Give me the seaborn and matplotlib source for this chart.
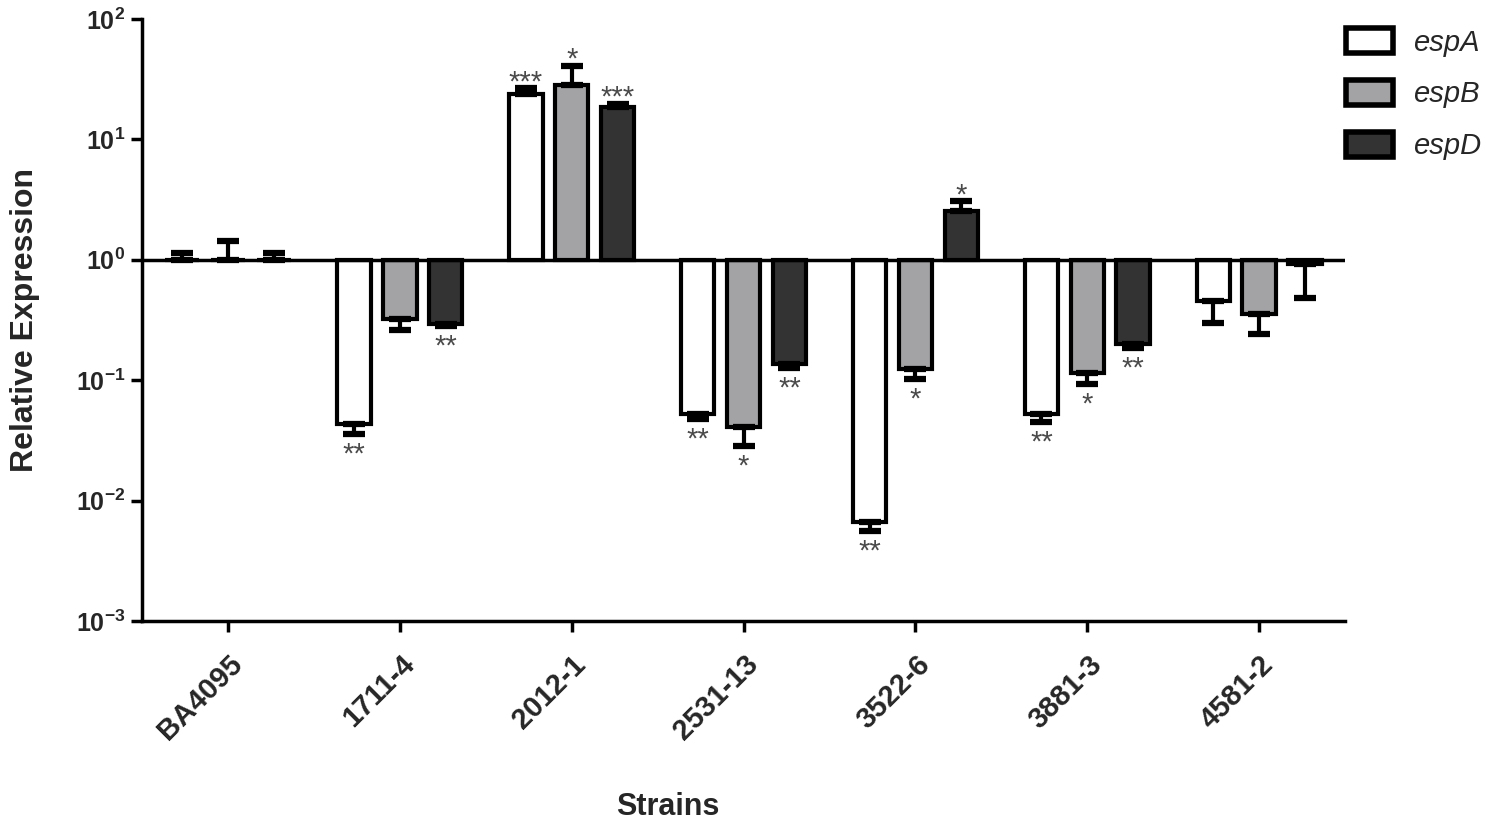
import numpy as np
import pandas as pd
import matplotlib
matplotlib.use("Agg")
import matplotlib.pyplot as plt
import seaborn as sns
from matplotlib.patches import Patch

# ---------------- data ----------------
strains = ["BA4095", "1711-4", "2012-1", "2531-13", "3522-6", "3881-3", "4581-2"]
genes = ["espA", "espB", "espD"]

espA = [1.0, 0.0435, 23.9, 0.0526, 0.00667, 0.0526, 0.457]
espB = [1.0, 0.324, 28.4, 0.041, 0.124, 0.115, 0.356]
espD = [1.0, 0.294, 18.7, 0.137, 2.55, 0.200, 0.92]

# end of the error bar (away from baseline 10^0)
espA_err = [1.14, 0.0359, 26.8, 0.0478, 0.0056, 0.045, 0.30]
espB_err = [1.44, 0.262, 40.9, 0.0285, 0.103, 0.093, 0.243]
espD_err = [1.14, 0.283, 19.8, 0.127, 3.09, 0.186, 0.483]

espA_sig = ["", "**", "***", "**", "**", "**", ""]
espB_sig = ["", "", "*", "*", "*", "*", ""]
espD_sig = ["", "**", "***", "**", "*", "**", ""]

colors = ["#ffffff", "#a3a3a6", "#333333"]
ytick_exps = [-3, -2, -1, 0, 1, 2]

values = {"espA": espA, "espB": espB, "espD": espD}
errs = {"espA": espA_err, "espB": espB_err, "espD": espD_err}
sigs = {"espA": espA_sig, "espB": espB_sig, "espD": espD_sig}

rows = []
for g in genes:
    for s, v in zip(strains, values[g]):
        rows.append({"strain": s, "gene": g, "value": v, "logv": np.log10(v)})
df = pd.DataFrame(rows)

# ---------------- style ----------------
sns.set_theme(style="ticks")
plt.rcParams["font.family"] = ["Liberation Sans", "DejaVu Sans"]
plt.rcParams["mathtext.fontset"] = "custom"
plt.rcParams["mathtext.rm"] = "Liberation Sans:bold"
plt.rcParams["mathtext.bf"] = "Liberation Sans:bold"
plt.rcParams["mathtext.it"] = "Liberation Sans:bold:italic"

fig = plt.figure(figsize=(15, 8.32), dpi=100)
ax = fig.add_axes([0.0947, 0.2536, 0.802, 0.7236])

sns.barplot(data=df, x="strain", y="logv", hue="gene", order=strains,
            hue_order=genes, palette=colors, saturation=1, edgecolor="black",
            linewidth=3, width=0.8, gap=0.27, errorbar=None, legend=False,
            ax=ax, zorder=2)

# bar centres from the drawn patches
centers = {}
pts = sorted([(p.get_x() + p.get_width() / 2) for p in ax.patches])
for i in range(len(strains)):
    grp = sorted([c for c in pts if round(c) == i])
    for g, c in zip(genes, grp):
        centers[(g, i)] = c

for g in genes:
    xs = np.array([centers[(g, i)] for i in range(len(strains))])
    y = np.log10(values[g])
    e = np.log10(errs[g])
    lower = np.clip(y - e, 0, None)
    upper = np.clip(e - y, 0, None)
    ax.errorbar(xs, y, yerr=[lower, upper], fmt="none", ecolor="black",
                elinewidth=3, capsize=8, capthick=4.5, zorder=3)
    for xi, yi, ei, s in zip(xs, y, e, sigs[g]):
        if not s:
            continue
        if ei < 0:
            ax.annotate(s, (xi, ei), xytext=(0, -5), textcoords="offset points",
                        ha="center", va="top", fontsize=21, color="#4a4a4a")
        else:
            ax.annotate(s, (xi, ei), xytext=(0, -6), textcoords="offset points",
                        ha="center", va="bottom", fontsize=21, color="#4a4a4a")

ax.axhline(0, color="black", lw=2.5, zorder=4)

ax.set_ylim(-3, 2)
ax.set_xlim(-0.5, 6.5)
ax.set_yticks(ytick_exps)
ax.set_yticklabels([rf"$10^{{{n}}}$" for n in ytick_exps], fontsize=18)
ax.set_xticks(range(len(strains)))
ax.set_xticklabels(strains, rotation=45, ha="right", va="top",
                   rotation_mode="anchor", fontsize=21, fontweight="bold")

for sp in ["top", "right"]:
    ax.spines[sp].set_visible(False)
for sp in ["left", "bottom"]:
    ax.spines[sp].set_linewidth(2.5)
    ax.spines[sp].set_color("black")
ax.tick_params(axis="both", width=2.5, length=8, color="black", direction="out")
ax.tick_params(axis="y", pad=4)
ax.tick_params(axis="x", pad=13)

ax.set_ylabel("Relative Expression", fontsize=23, fontweight="bold", labelpad=26)
ax.set_xlabel("Strains", fontsize=22, fontweight="bold")
ax.xaxis.set_label_coords(0.437, -0.284)

handles = [Patch(facecolor=c, edgecolor="black", linewidth=4) for c in colors]
leg = fig.legend(handles, genes, loc="upper left", bbox_to_anchor=(0.88, 0.998),
                 frameon=False, handlelength=1.6, handleheight=0.95,
                 labelspacing=0.8, handletextpad=0.7,
                 prop={"style": "italic", "size": 21})

fig.savefig("out.png", dpi=100)
